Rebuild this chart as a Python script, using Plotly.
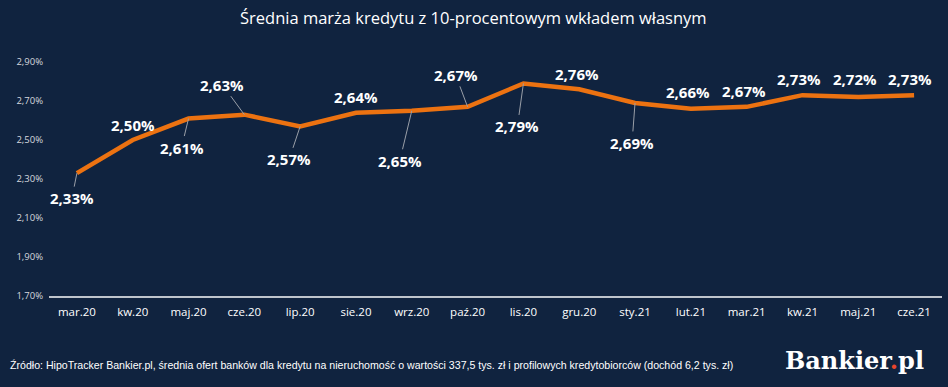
import plotly.graph_objects as go

categories = ["mar.20", "kw.20", "maj.20", "cze.20", "lip.20", "sie.20", "wrz.20", "paź.20",
              "lis.20", "gru.20", "sty.21", "lut.21", "mar.21", "kw.21", "maj.21", "cze.21"]
margin_values = [2.33, 2.50, 2.61, 2.63, 2.57, 2.64, 2.65, 2.67,
                 2.79, 2.76, 2.69, 2.66, 2.67, 2.73, 2.72, 2.73]
y_ticks = [1.70, 1.90, 2.10, 2.30, 2.50, 2.70, 2.90]
y_tick_labels = ["1,70%", "1,90%", "2,10%", "2,30%", "2,50%", "2,70%", "2,90%"]

# label offsets (pixels) and whether a leader line is shown
label_dx = [-5, 0, -7, -22, -11, 0, -12, -12, -6, -2, -3, -3, -3, -3, -3, -4]
label_dy = [25, -15, 29, -30, 33, -16, 50, -32, 43, -15, 40, -17, -16, -16, -18, -16]
leader = [True, False, True, True, True, False, True, True, True, False, True, False, False, False, False, False]

BG = "#10233F"
ORANGE = "#EC7211"

W, H = 948, 387
L, R, T, B = 49, 6, 62, 91


def px_x(x):
    return (x - L) / (W - L - R)


def px_y(y):
    return (H - B - y) / (H - T - B)


fig = go.Figure()
fig.add_trace(go.Scatter(
    x=categories, y=margin_values, mode="lines",
    line=dict(color=ORANGE, width=4.5), hoverinfo="skip", showlegend=False,
))

for c, v, dx, dy, ld in zip(categories, margin_values, label_dx, label_dy, leader):
    fig.add_annotation(
        x=c, y=v, xref="x", yref="y",
        text=f"<b>{v:.2f}%</b>".replace(".", ","),
        showarrow=True, arrowhead=0, arrowwidth=1,
        arrowcolor="#9A9FA8" if ld else "rgba(0,0,0,0)",
        ax=dx, ay=dy, standoff=0,
        font=dict(family="Open Sans, Noto Sans, sans-serif", size=15, color="white"),
    )

fig.add_annotation(
    x=px_x(473), y=px_y(17), xref="paper", yref="paper", xanchor="center", yanchor="middle",
    text="Średnia marża kredytu z 10-procentowym wkładem własnym",
    showarrow=False,
    font=dict(family="Open Sans, Noto Sans, sans-serif", size=16.5, color="white"),
)

fig.add_annotation(
    x=px_x(8), y=px_y(365), xref="paper", yref="paper", showarrow=False,
    text="Źródło: HipoTracker Bankier.pl, średnia ofert banków dla kredytu na nieruchomość o wartości 337,5 tys. zł i profilowych kredytobiorców (dochód 6,2 tys. zł)",
    font=dict(family="Liberation Sans Narrow, Liberation Sans, sans-serif", size=10.6, color="white"),
    xanchor="left", yanchor="middle",
)
fig.add_annotation(
    x=px_x(926), y=px_y(360), xref="paper", yref="paper", showarrow=False,
    text="<b>Bankier<span style='color:#E8452C'>.</span>pl</b>",
    font=dict(family="DejaVu Serif, serif", size=24, color="white"),
    xanchor="right", yanchor="middle",
)

fig.update_layout(
    width=W, height=H,
    margin=dict(l=L, r=R, t=T, b=B, autoexpand=False),
    paper_bgcolor=BG, plot_bgcolor=BG,
    xaxis=dict(
        type="category", categoryorder="array", categoryarray=categories,
        showgrid=False, showline=True, linecolor="#BFC4CC", linewidth=1.5,
        ticks="", tickfont=dict(family="Open Sans, Noto Sans, sans-serif", size=11.5, color="white"),
        ticklabelstandoff=4,
        range=[-0.5, len(categories) - 0.5], fixedrange=True,
    ),
    yaxis=dict(
        range=[1.70, 2.90], tickvals=y_ticks, ticktext=y_tick_labels,
        showgrid=False, zeroline=False, showline=False, ticks="",
        tickfont=dict(family="Open Sans, Noto Sans, sans-serif", size=9.5, color="#D5D8DE"),
        ticklabelstandoff=5,
    ),
)

fig.write_html(
    "out.html",
    config={"displayModeBar": False},
    post_script="document.body.style.margin='0';document.body.style.background='" + BG + "';",
)
